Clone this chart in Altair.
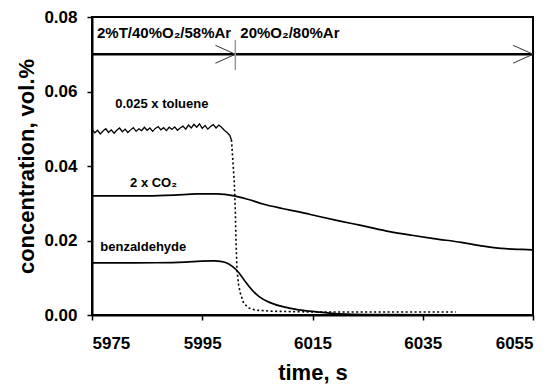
import altair as alt
import pandas as pd

FONT = "Liberation Sans"

# ---------------- data ----------------
tol_t = [5975, 5975.5, 5976, 5976.5, 5977, 5977.5, 5978, 5978.5, 5979, 5979.5,
         5980, 5980.5, 5981, 5981.5, 5982, 5982.5, 5983, 5983.5, 5984, 5984.5,
         5985, 5985.5, 5986, 5986.5, 5987, 5987.5, 5988, 5988.5, 5989, 5989.5,
         5990, 5990.5, 5991, 5991.5, 5992, 5992.5, 5993, 5993.5, 5994, 5994.5,
         5995, 5995.5, 5996, 5996.5, 5997, 5997.5, 5998, 5998.5, 5999, 5999.5,
         6000, 6000.3]
tol_v = [0.0500, 0.0489, 0.0496, 0.0486, 0.0494, 0.0500, 0.0490, 0.0497, 0.0488, 0.0496,
         0.0502, 0.0492, 0.0499, 0.0490, 0.0497, 0.0503, 0.0493, 0.0500, 0.0495, 0.0504,
         0.0496, 0.0502, 0.0493, 0.0501, 0.0506, 0.0497, 0.0503, 0.0495, 0.0504, 0.0498,
         0.0505, 0.0496, 0.0502, 0.0507, 0.0499, 0.0510, 0.0502, 0.0512, 0.0504, 0.0513,
         0.0501, 0.0509, 0.0499, 0.0506, 0.0511, 0.0502, 0.0510, 0.0504, 0.0496, 0.0490,
         0.0482, 0.0470]

tol_drop_t = [6000.3, 6000.8, 6001.0, 6001.1, 6001.3, 6001.6, 6001.9, 6002.5, 6003.4,
              6004.6, 6008, 6015, 6025, 6035, 6041]
tol_drop_v = [0.0470, 0.0360, 0.0280, 0.0210, 0.0120, 0.0080, 0.0059, 0.0032, 0.0019,
              0.0013, 0.0010, 0.0008, 0.0008, 0.0008, 0.0008]

co2_t = [5975, 5985, 5990, 5994, 5997.5, 6000.8, 6003.4, 6006, 6009.5, 6012.8, 6016,
         6020, 6024, 6029, 6033, 6037, 6042, 6046, 6050, 6053, 6055]
co2_v = [0.0320, 0.0320, 0.0322, 0.0325, 0.0325, 0.0320, 0.0310, 0.0298, 0.0286, 0.0276,
         0.0265, 0.0252, 0.0240, 0.0224, 0.0214, 0.0205, 0.0195, 0.0185, 0.0178, 0.0176,
         0.0175]

benz_t = [5975, 5988, 5992, 5995, 5997.4, 5999.2, 6000.4, 6001.6, 6002.8, 6004.0, 6005.2,
          6007.1, 6009.5, 6012.5, 6015.5, 6018, 6021, 6025, 6040, 6055]
benz_v = [0.0140, 0.0140, 0.0142, 0.0145, 0.0146, 0.0143, 0.0132, 0.0116, 0.0089, 0.0067,
          0.0049, 0.0033, 0.0022, 0.0013, 0.0009, 0.0005, 0.0002, 0.0001, 0.0000, 0.0000]

x_ticks = [5975, 5995, 6015, 6035, 6055]
y_ticks = [0.00, 0.02, 0.04, 0.06, 0.08]

switch_time = 6001
arrow_level = 0.07
arrow_tips = [6001, 6055]
gas_labels = ["2%T/40%O\u2082/58%Ar", "20%O\u2082/80%Ar"]
gas_label_t = [5975.9, 6001.9]
gas_label_y = [0.0744, 0.0744]

curve_labels = ["0.025 x toluene", "2 x CO\u2082", "benzaldehyde"]
curve_label_t = [5979.2, 5981.9, 5976.5]
curve_label_y = [0.0556, 0.0344, 0.0173]

# ---------------- frames ----------------
tol = pd.DataFrame({"t": tol_t, "c": tol_v})
tol_drop = pd.DataFrame({"t": tol_drop_t, "c": tol_drop_v})
co2 = pd.DataFrame({"t": co2_t, "c": co2_v})
benz = pd.DataFrame({"t": benz_t, "c": benz_v})

xs = alt.Scale(domain=[5975, 6055], nice=False, zero=False)
ys = alt.Scale(domain=[0, 0.08], nice=False)

X = alt.X("t:Q", scale=xs, title="time, s",
          axis=alt.Axis(values=x_ticks, format="d", labelPadding=15,
                        titleY=64, titleBaseline="alphabetic"))
Y = alt.Y("c:Q", scale=ys, title="concentration, vol.%",
          axis=alt.Axis(values=y_ticks, format=".2f", labelPadding=10,
                        titleX=-59, titleY=149, titleAngle=-90,
                        titleBaseline="alphabetic"))

tol_line = alt.Chart(tol).mark_line(color="black", strokeWidth=1.3).encode(x=X, y=Y)
tol_drop_line = alt.Chart(tol_drop).mark_line(
    color="black", strokeWidth=1.6, strokeDash=[2, 2.5]).encode(x="t:Q", y="c:Q")
co2_line = alt.Chart(co2).mark_line(color="black", strokeWidth=1.7,
                                    interpolate="monotone").encode(x="t:Q", y="c:Q")
benz_line = alt.Chart(benz).mark_line(color="black", strokeWidth=1.7,
                                      interpolate="basis").encode(x="t:Q", y="c:Q")

# arrow line
arrow_df = pd.DataFrame({"t": [5975], "t2": [6055], "c": [arrow_level]})
arrow = alt.Chart(arrow_df).mark_rule(color="black", strokeWidth=2.5).encode(
    x="t:Q", x2="t2:Q", y="c:Q")

# chevron heads
heads = []
for tip in arrow_tips:
    for s in (1, -1):
        heads.append({"t": tip - 3.6, "c": arrow_level + s * 0.0024,
                      "t2": tip, "c2": arrow_level})
heads_df = pd.DataFrame(heads)
chev = alt.Chart(heads_df).mark_rule(color="#333333", strokeWidth=1).encode(
    x="t:Q", x2="t2:Q", y="c:Q", y2="c2:Q")

# vertical gray marker at switch
vt_df = pd.DataFrame({"t": [switch_time], "c": [0.0658], "c2": [0.0738]})
vtick = alt.Chart(vt_df).mark_rule(color="#999999", strokeWidth=1.5).encode(
    x="t:Q", y="c:Q", y2="c2:Q")

gas_df = pd.DataFrame({"t": gas_label_t, "c": gas_label_y, "txt": gas_labels})
gas_text = alt.Chart(gas_df).mark_text(
    align="left", baseline="alphabetic", font=FONT, fontWeight="bold",
    fontSize=15, color="black").encode(x="t:Q", y="c:Q", text="txt:N")

cl_df = pd.DataFrame({"t": curve_label_t, "c": curve_label_y, "txt": curve_labels})
cl_text = alt.Chart(cl_df).mark_text(
    align="left", baseline="alphabetic", font=FONT, fontWeight="bold",
    fontSize=13, color="black").encode(x="t:Q", y="c:Q", text="txt:N")

chart = alt.layer(
    tol_line, tol_drop_line, co2_line, benz_line, arrow, chev, vtick, gas_text, cl_text
).properties(
    width=441, height=298,
    autosize=alt.AutoSizeParams(type="none"),
    padding={"left": 92, "top": 17, "right": 23, "bottom": 71},
    background="white",
).configure_view(
    stroke="black", strokeWidth=2
).configure_axis(
    grid=False, domainColor="black", domainWidth=2,
    tickColor="black", tickWidth=1.5, tickSize=5,
    labelFont=FONT, labelFontWeight="bold", labelFontSize=17, labelColor="black",
    titleFont=FONT, titleFontWeight="bold", titleFontSize=22, titleColor="black",
)

chart.save("out.html", embed_options={"renderer": "svg", "actions": False})
